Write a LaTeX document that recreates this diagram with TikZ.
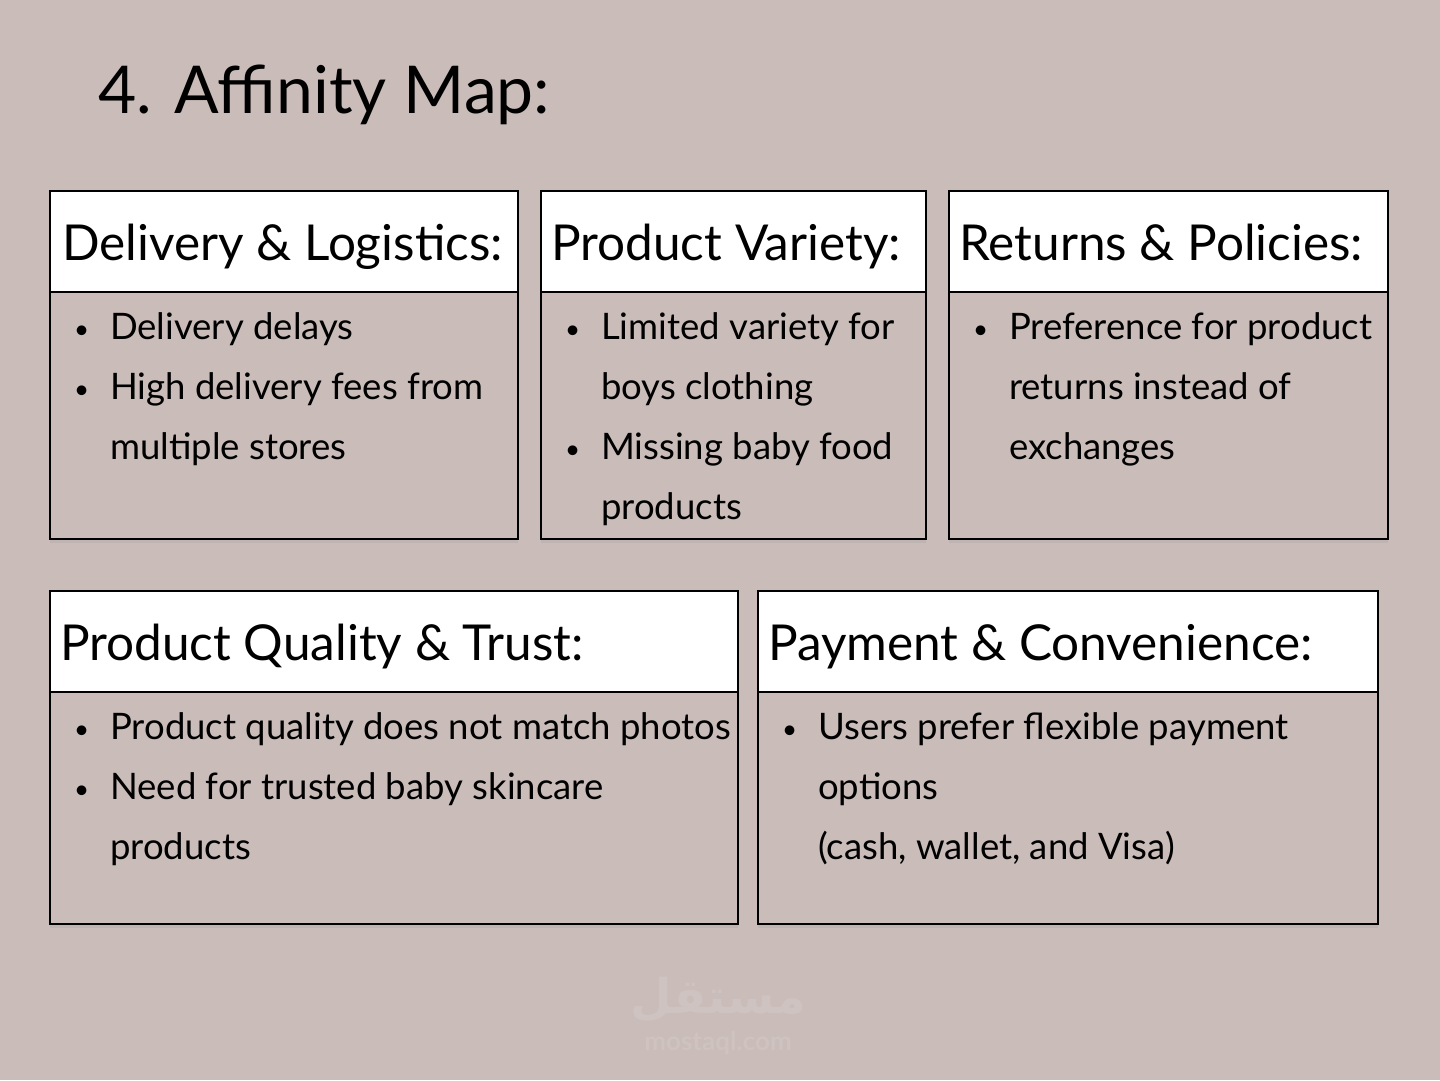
\documentclass[tikz,border=0pt]{standalone}
\usepackage{fontspec}
\setmainfont{Lato}
\newfontfamily\arabicfont[Script=Arabic]{DejaVu Sans}
\TeXXeTstate=1
\usetikzlibrary{shadows}
\definecolor{bg}{RGB}{201,188,185}
\definecolor{wm}{RGB}{206,195,192}
\tikzset{
  x=1pt,y=-1pt,
  hdrbox/.style={draw=black,line width=1.3pt,fill=white},
  bodybox/.style={draw=black,line width=1.3pt,fill=bg,
    drop shadow={opacity=0.12,shadow xshift=0pt,shadow yshift=-4pt}},
  hdrtext/.style={anchor=base west,inner sep=0pt,font=\fontsize{49.5}{54}\selectfont},
  bodytext/.style={anchor=north west,inner sep=0pt,align=left,font=\fontsize{36.5}{60}\selectfont},
}
\newcommand\bl{\makebox[37pt][l]{\hspace{1pt}\raisebox{1pt}{\fontsize{26}{26}\selectfont\textbullet}}}
\newcommand\nb{\hspace*{37pt}}
\begin{document}
\begin{tikzpicture}
\fill[bg] (0,0) rectangle (1440,1080);
\useasboundingbox (0,0) rectangle (1440,1080);
\node[anchor=base west,inner sep=0pt,font=\fontsize{66}{70}\selectfont] (title) at (98,113) {4. Affinity Map:};
% watermark
\node[text=wm,font=\arabicfont\fontsize{48}{50}\selectfont\bfseries] (wm1) at (718,1000) {\beginR مستقل\endR};
\node[text=wm,font=\fontsize{26}{30}\selectfont\bfseries] (wm2) at (718,1043) {mostaql.com};
% row 1
\draw[bodybox] (50,191) rectangle (518,539);
\draw[hdrbox] (50,191) rectangle (518,292);
\draw[bodybox] (541,191) rectangle (926,539);
\draw[hdrbox] (541,191) rectangle (926,292);
\draw[bodybox] (949,191) rectangle (1388,539);
\draw[hdrbox] (949,191) rectangle (1388,292);
% row 2
\draw[bodybox] (50,591) rectangle (738,924);
\draw[hdrbox] (50,591) rectangle (738,692);
\draw[bodybox] (758,591) rectangle (1378,924);
\draw[hdrbox] (758,591) rectangle (1378,692);
% headers
\node[hdrtext] (h1) at (62,260) {Delivery \& Logistics:};
\node[hdrtext] (h2) at (551,260) {Product Variety:};
\node[hdrtext] (h3) at (959,260) {Returns \& Policies:};
\node[hdrtext] (h4) at (60,660) {Product Quality \& Trust:};
\node[hdrtext] (h5) at (768,660) {Payment \& Convenience:};
% bodies
\node[bodytext] (b1) at (73,312) {\bl Delivery delays\\\bl High delivery fees from\\\nb multiple stores};
\node[bodytext] (b2) at (564,312) {\bl Limited variety for\\\nb boys clothing\\\bl Missing baby food\\\nb products};
\node[bodytext] (b3) at (972,312) {\bl Preference for product\\\nb returns instead of\\\nb exchanges};
\node[bodytext] (b4) at (73,712) {\bl Product quality does not match photos\\\bl Need for trusted baby skincare\\\nb products};
\node[bodytext] (b5) at (781,712) {\bl Users prefer flexible payment\\\nb options\\\nb (cash, wallet, and Visa)};
\end{tikzpicture}
\end{document}
